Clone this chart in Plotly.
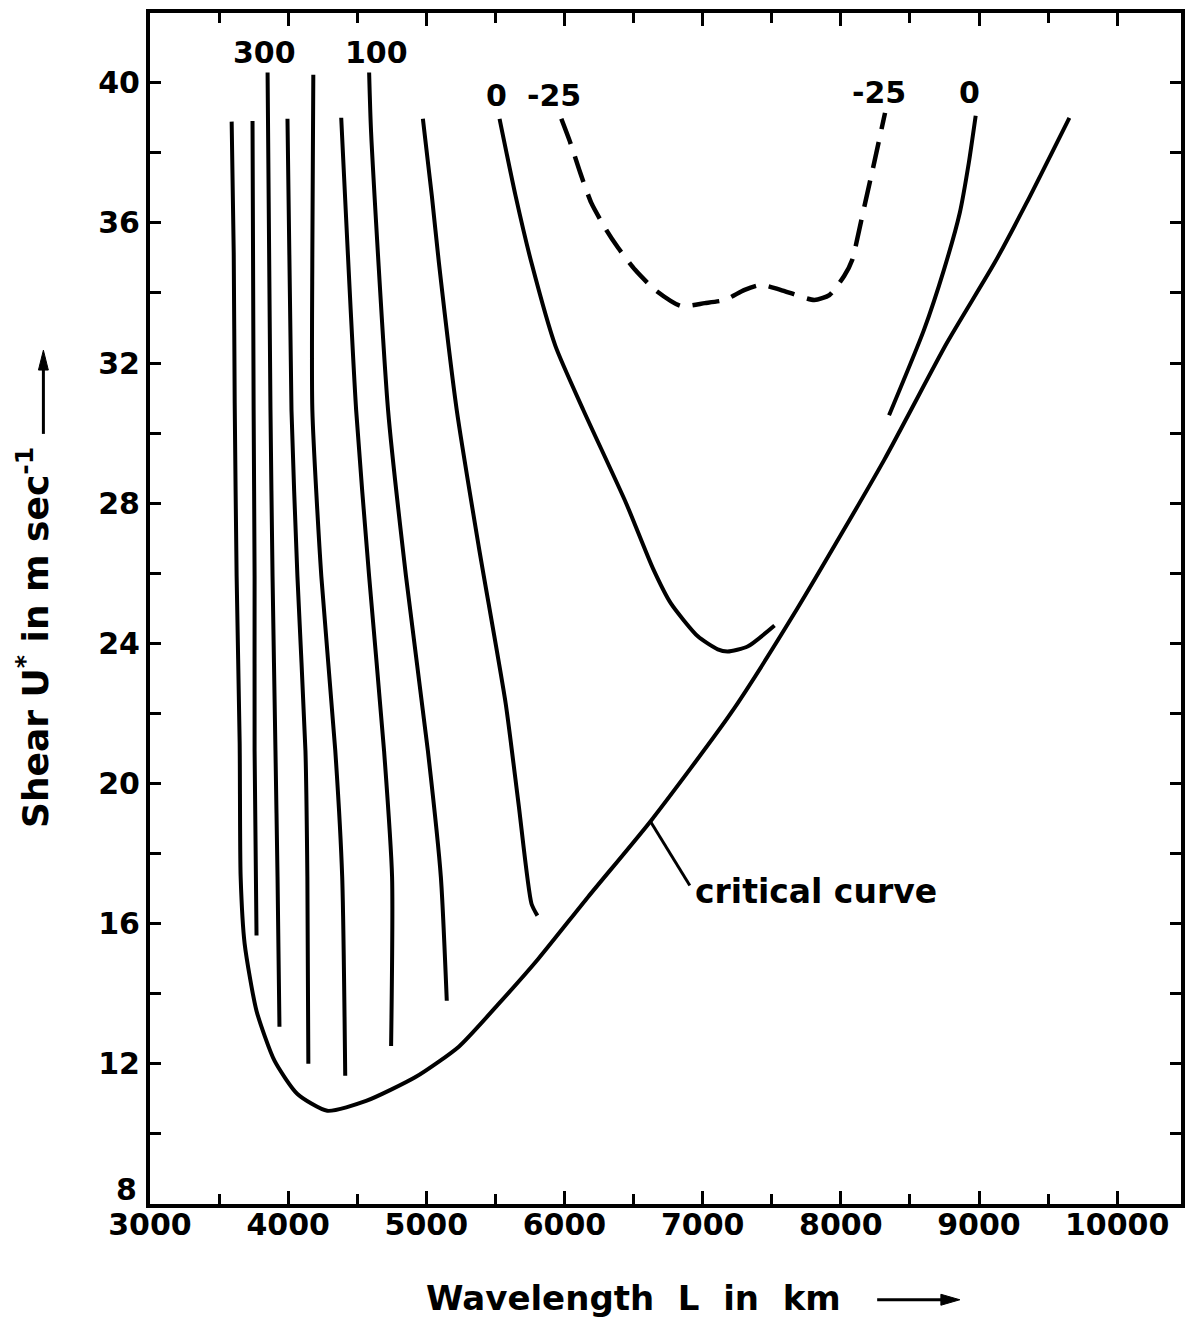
import plotly.graph_objects as go

# ---- data (wavelength L in km, shear U* in m/s) ----
crit_L = [3591, 3606, 3613, 3627, 3649, 3656, 3685, 3771, 3901, 4067, 4283, 4564, 4925,
          5235, 5523, 5811, 6172, 6626, 7203, 7686, 8313, 8767, 9113, 9344, 9654]
crit_U = [38.89, 35.14, 30.86, 25.91, 21.14, 17.34, 15.43, 13.51, 12.09, 11.14, 10.66, 10.94, 11.63,
          12.49, 13.71, 15.0, 16.77, 18.94, 22.0, 25.0, 29.23, 32.57, 34.86, 36.57, 39.0]

c1_L = [3742, 3750, 3757, 3757, 3771]
c1_U = [38.91, 30.66, 25.91, 20.94, 15.66]

c300_L = [3851, 3872, 3887, 3908, 3923, 3937]
c300_U = [40.29, 30.66, 25.91, 20.94, 17.34, 13.06]

c3_L = [3995, 4024, 4067, 4125, 4139, 4146]
c3_U = [38.97, 30.66, 25.91, 20.94, 17.34, 12.0]

c4_L = [4182, 4175, 4175, 4240, 4341, 4391, 4413]
c4_U = [40.23, 35.14, 30.66, 25.91, 20.94, 17.34, 11.66]

c5_L = [4384, 4492, 4586, 4694, 4752, 4745]
c5_U = [39.0, 30.66, 25.91, 20.94, 17.34, 12.51]

c100_L = [4586, 4600, 4723, 4853, 5011, 5105, 5148]
c100_U = [40.29, 38.6, 30.66, 25.91, 20.94, 17.34, 13.8]

c7_L = [4975, 5040, 5091, 5220, 5379, 5574, 5667, 5761, 5804]
c7_U = [38.97, 36.77, 34.86, 30.66, 26.77, 22.29, 19.43, 16.57, 16.23]

zeroA_L = [5530, 5646, 5761, 5934, 6136, 6446, 6640, 6770, 6965, 7109, 7181, 7325, 7520]
zeroA_U = [38.97, 36.77, 34.86, 32.49, 30.66, 28.0, 26.14, 25.14, 24.2, 23.83, 23.77, 23.91, 24.51]

neg25_L = [5977, 6042, 6114, 6194, 6302, 6388, 6511, 6655, 6842, 7015, 7160, 7304, 7419, 7563,
           7808, 7917, 8025, 8082, 8133, 8176, 8241, 8320]
neg25_U = [38.97, 38.29, 37.43, 36.57, 35.8, 35.29, 34.66, 34.09, 33.63, 33.71, 33.8, 34.09, 34.23,
           34.09, 33.8, 33.94, 34.49, 34.94, 35.8, 36.57, 37.71, 39.14]

zeroB_L = [8976, 8926, 8861, 8746, 8601, 8349]
zeroB_U = [39.06, 37.71, 36.29, 34.66, 32.94, 30.51]

pointer_L = [6619, 6907]
pointer_U = [18.94, 17.09]

label_text = ["300", "100", "0", "-25", "-25", "0"]
label_L = [3829, 4636, 5509, 5927, 8277, 8933]
label_U = [40.86, 40.86, 39.63, 39.63, 39.71, 39.71]

x_ticks = [3000, 4000, 5000, 6000, 7000, 8000, 9000, 10000]
y_ticks = [12, 16, 20, 24, 28, 32, 36, 40]
y_bottom_label = 8

FONT = "DejaVu Sans"
fig = go.Figure()

def add_line(xs, ys, width=4, dash="solid"):
    fig.add_trace(go.Scatter(x=xs, y=ys, mode="lines",
                             line=dict(color="black", width=width, dash=dash,
                                       shape="spline", smoothing=0.6),
                             hoverinfo="skip"))

add_line(crit_L, crit_U)
for xs, ys in [(c1_L, c1_U), (c300_L, c300_U), (c3_L, c3_U), (c4_L, c4_U),
               (c5_L, c5_U), (c100_L, c100_U), (c7_L, c7_U), (zeroA_L, zeroA_U),
               (zeroB_L, zeroB_U)]:
    add_line(xs, ys)
add_line(neg25_L, neg25_U, width=4.5, dash="27px,13px")
fig.add_trace(go.Scatter(x=pointer_L, y=pointer_U, mode="lines",
                         line=dict(color="black", width=3), hoverinfo="skip"))

bold = dict(family=FONT, color="black", weight="bold")

for t, lx, ly in zip(label_text, label_L, label_U):
    fig.add_annotation(x=lx, y=ly, text=t, showarrow=False, font=dict(size=30, **bold))

fig.add_annotation(x=6929, y=16.91, text="critical curve", showarrow=False,
                   xanchor="left", font=dict(size=33, **bold))

# the lowest y tick label sits a little above the corner
fig.add_annotation(xref="paper", yref="y", x=-0.0106, y=y_bottom_label + 0.4,
                   text=str(y_bottom_label), showarrow=False, xanchor="right",
                   yanchor="middle", font=dict(size=30, **bold))

# axis titles
fig.add_annotation(xref="paper", yref="paper", x=0.2657, y=-0.0787, xanchor="left", yanchor="middle",
                   text="Wavelength&nbsp;&nbsp;L&nbsp;&nbsp;in&nbsp;&nbsp;km",
                   showarrow=False, font=dict(size=34, **bold))
fig.add_annotation(xref="paper", yref="paper", x=-0.1130, y=0.4757, textangle=-90,
                   xanchor="center", yanchor="middle",
                   text="Shear U<sup>*</sup> in m sec<sup>-1</sup>",
                   showarrow=False, font=dict(size=36, **bold))

# title arrows (decorations, paper coordinates)
fig.add_shape(type="line", xref="paper", yref="paper", x0=0.7053, x1=0.7720,
              y0=-0.0804, y1=-0.0804, line=dict(color="black", width=3))
fig.add_shape(type="path", xref="paper", yref="paper",
              path="M 0.7671 -0.0758 L 0.7855 -0.0804 L 0.7671 -0.0850 Z",
              fillcolor="black", line=dict(color="black", width=1))
fig.add_shape(type="line", xref="paper", yref="paper", x0=-0.1034, x1=-0.1034,
              y0=0.6466, y1=0.7040, line=dict(color="black", width=3))
fig.add_shape(type="path", xref="paper", yref="paper",
              path="M -0.1082 0.7002 L -0.1034 0.7169 L -0.0986 0.7002 Z",
              fillcolor="black", line=dict(color="black", width=1))

axis_common = dict(showline=True, linewidth=4, linecolor="black", mirror="ticks",
                   ticks="inside", tickwidth=3, tickcolor="black",
                   showgrid=False, zeroline=False,
                   tickfont=dict(size=30, **bold))

fig.update_xaxes(range=[3000, 10462], tickvals=x_ticks, ticktext=[str(v) for v in x_ticks],
                 ticklen=13, ticklabelstandoff=-9,
                 minor=dict(ticks="inside", dtick=500, tick0=3000, ticklen=10, tickwidth=3,
                            tickcolor="black", showgrid=False),
                 **axis_common)
fig.update_yaxes(range=[8, 41.99], tickvals=y_ticks, ticktext=[str(v) for v in y_ticks],
                 ticklen=11,
                 minor=dict(ticks="inside", dtick=2, tick0=8, ticklen=11, tickwidth=3,
                            tickcolor="black", showgrid=False),
                 **axis_common)

fig.update_layout(width=1178, height=1310, margin=dict(l=142, r=1, t=2, b=114),
                  plot_bgcolor="white", paper_bgcolor="white", showlegend=False)

fig.write_html("out.html")
